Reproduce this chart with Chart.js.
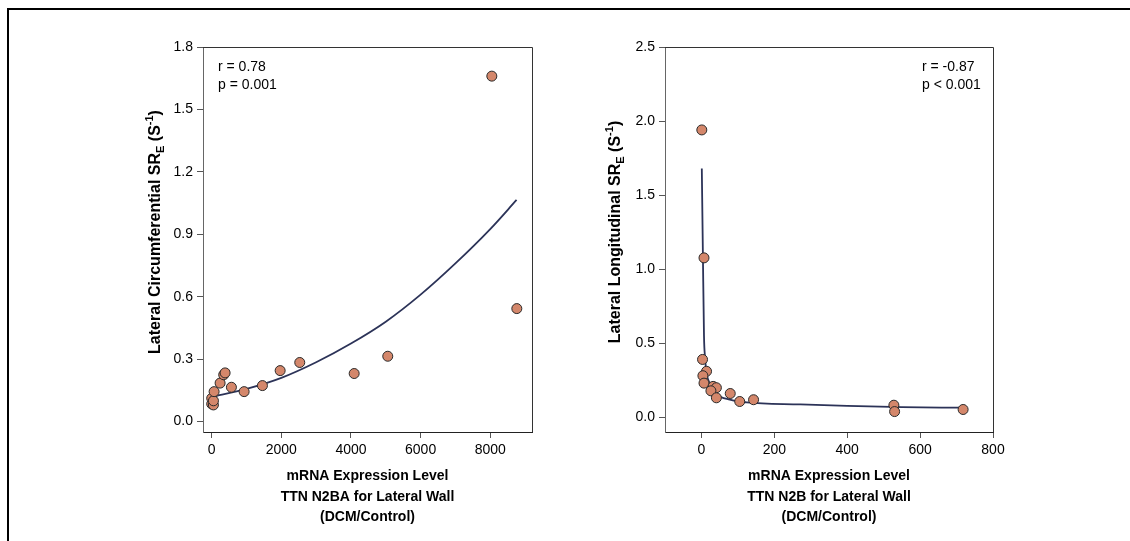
<!DOCTYPE html>
<html>
<head>
<meta charset="utf-8">
<script src="https://cdn.jsdelivr.net/npm/chart.js@4.4.1/dist/chart.umd.min.js"></script>
<style>
body{margin:0;background:#fff;width:1130px;height:541px;overflow:hidden;position:relative}
#frame{position:absolute;left:7px;top:8px;width:1130px;height:540px;border-top:2px solid #000;border-left:2px solid #000}
canvas{position:absolute;top:0}
</style>
</head>
<body>
<div id="frame"></div>
<canvas id="left" width="565" height="541" style="left:0"></canvas>
<canvas id="right" width="565" height="541" style="left:565px"></canvas>
<script>
// left panel: TTN N2BA vs circumferential SRe
let n2baX = [0, 0, 49, 50, 69, 241, 345, 385, 566, 931, 1457, 1966, 2529, 4092, 5057, 8046, 8764];
let n2baY = [0.112, 0.085, 0.08, 0.10, 0.144, 0.185, 0.225, 0.234, 0.165, 0.144, 0.173, 0.245, 0.284, 0.231, 0.314, 1.66, 0.543];
let n2baFitX = [90, 1000, 2000, 3000, 4000, 5000, 6000, 7000, 8000, 8757];
let n2baFitY = [0.122, 0.157, 0.21, 0.285, 0.375, 0.48, 0.61, 0.76, 0.925, 1.065];

// right panel: TTN N2B vs longitudinal SRe
let n2bX = [1, 7, 3, 14, 4, 7, 32, 41, 26, 41, 79, 105, 143, 528, 530, 718];
let n2bY = [1.94, 1.076, 0.39, 0.31, 0.28, 0.23, 0.208, 0.199, 0.178, 0.131, 0.16, 0.106, 0.118, 0.081, 0.038, 0.052];
let n2bFitX = [1, 4, 7, 10, 14, 23, 41, 78, 124, 271, 400, 550, 713];
let n2bFitY = [1.68, 1.1, 0.55, 0.4, 0.3, 0.226, 0.158, 0.118, 0.1, 0.086, 0.076, 0.068, 0.064];

let leftXTicks = [0, 2000, 4000, 6000, 8000];
let leftYTicks = [0, 0.3, 0.6, 0.9, 1.2, 1.5, 1.8];
let rightXTicks = [0, 200, 400, 600, 800];
let rightYTicks = [0, 0.5, 1.0, 1.5, 2.0, 2.5];

const FONT = "'Liberation Sans', Arial, Helvetica, sans-serif";
const xTitle = 'mRNA Expression Level';

function pts(xs, ys){ return xs.map((x,i)=>({x:x, y:ys[i]})); }

function richText(ctx, parts, cx, cy, rot){
    ctx.save();
    ctx.translate(cx, cy);
    ctx.rotate(rot);
    ctx.fillStyle = '#000';
    ctx.textBaseline = 'alphabetic';
    ctx.textAlign = 'left';
    let w = 0;
    parts.forEach(p=>{ ctx.font = 'bold '+p.size+'px '+FONT; w += ctx.measureText(p.t).width; });
    let x = -w/2;
    parts.forEach(p=>{
        ctx.font = 'bold '+p.size+'px '+FONT;
        ctx.fillText(p.t, x, 5 + p.dy);
        x += ctx.measureText(p.t).width;
    });
    ctx.restore();
}

function makeChart(id, o){
    let deco = {
        id: 'deco',
        afterDraw(chart){
            let c = chart.ctx, a = chart.chartArea;
            c.save();
            c.strokeStyle = '#333';
            c.lineWidth = 1;
            c.beginPath();
            c.moveTo(a.left, a.top + 0.5); c.lineTo(a.right + 0.5, a.top + 0.5);
            c.lineTo(a.right + 0.5, a.bottom);
            c.stroke();
            c.fillStyle = '#000';
            c.font = '14px ' + FONT;
            c.textBaseline = 'middle';
            c.textAlign = 'left';
            c.fillText(o.stats[0], o.statX, 67);
            c.fillText(o.stats[1], o.statX, 85);
            richText(c, [
                {t:o.yTitle, size:16, dy:0},
                {t:'E', size:11, dy:4},
                {t:' (S', size:16, dy:0},
                {t:'-1', size:11, dy:-7},
                {t:')', size:16, dy:0}
            ], o.yTitleX, 232, -Math.PI/2);
            let cx = (a.left + a.right)/2;
            richText(c, [{t:xTitle, size:14, dy:0}], cx, 475, 0);
            richText(c, [{t:o.xTitle2, size:14, dy:0}], cx, 496, 0);
            richText(c, [{t:'(DCM/Control)', size:14, dy:0}], cx, 516, 0);
            c.restore();
        }
    };
    return new Chart(document.getElementById(id), {
        type: 'scatter',
        data: {
            datasets: [{
                data: pts(o.x, o.y),
                backgroundColor: '#D4876B',
                borderColor: '#2a2a2a',
                borderWidth: 1,
                pointRadius: 5,
                pointHoverRadius: 5
            }, {
                data: pts(o.fx, o.fy),
                showLine: true,
                borderColor: '#2C3358',
                borderWidth: 1.8,
                pointRadius: 0,
                cubicInterpolationMode: 'monotone',
                fill: false
            }]
        },
        options: {
            responsive: false,
            animation: false,
            layout: { padding: { left: 0, right: o.padRight, top: 47, bottom: 0 } },
            plugins: { legend: { display: false }, tooltip: { enabled: false } },
            scales: {
                x: {
                    type: 'linear', min: o.xMin, max: o.xMax,
                    afterBuildTicks: s => { s.ticks = o.xTicks.map(v=>({value:v})); },
                    afterFit: s => { s.height = 109; },
                    ticks: { font: { size: 14, family: FONT }, color: '#000', padding: 4, maxRotation: 0, autoSkip: false,
                        callback: v => String(v) },
                    grid: { display: true, drawOnChartArea: false, drawTicks: true, tickLength: 6, color: '#555' },
                    border: { display: true, color: '#222', width: 1 }
                },
                y: {
                    type: 'linear', min: o.yMin, max: o.yMax,
                    afterBuildTicks: s => { s.ticks = o.yTicks.map(v=>({value:v})); },
                    afterFit: s => { s.width = o.yWidth; },
                    ticks: { font: { size: 14, family: FONT }, color: '#000', padding: 4, autoSkip: false,
                        callback: v => v.toFixed(1) },
                    grid: { display: true, drawOnChartArea: false, drawTicks: true, tickLength: 6, color: '#555' },
                    border: { display: true, color: '#666', width: 1 }
                }
            }
        },
        plugins: [deco]
    });
}

makeChart('left', {
    x: n2baX, y: n2baY, fx: n2baFitX, fy: n2baFitY,
    xMin: -250, xMax: 9200, yMin: -0.05, yMax: 1.8,
    xTicks: leftXTicks, yTicks: leftYTicks,
    yWidth: 203, padRight: 33,
    stats: ['r = 0.78', 'p = 0.001'], statX: 218,
    yTitle: 'Lateral Circumferential SR', yTitleX: 155,
    xTitle2: 'TTN N2BA for Lateral Wall'
});

makeChart('right', {
    x: n2bX, y: n2bY, fx: n2bFitX, fy: n2bFitY,
    xMin: -100, xMax: 800, yMin: -0.1, yMax: 2.5,
    xTicks: rightXTicks, yTicks: rightYTicks,
    yWidth: 100, padRight: 137,
    stats: ['r = -0.87', 'p < 0.001'], statX: 357,
    yTitle: 'Lateral Longitudinal SR', yTitleX: 50,
    xTitle2: 'TTN N2B for Lateral Wall'
});
</script>
</body>
</html>
